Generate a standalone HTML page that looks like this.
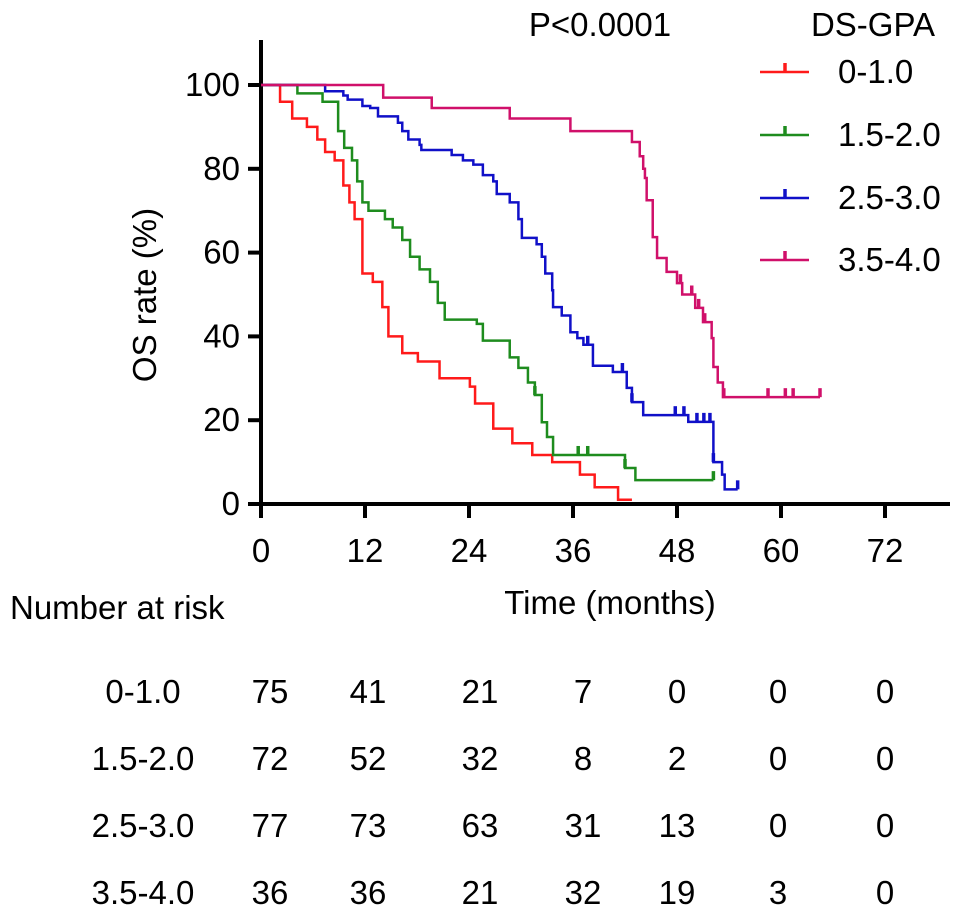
<!DOCTYPE html>
<html><head><meta charset="utf-8"><style>
body{margin:0;background:#fff;}
svg text{font-family:"Liberation Sans",Arial,sans-serif;fill:#000;}
</style></head><body>
<svg id="chart" width="969" height="919" xmlns="http://www.w3.org/2000/svg"></svg>
<script>
const xTicks=[0,12,24,36,48,60,72];
const yTicks=[0,20,40,60,80,100];
const groupNames=["0-1.0","1.5-2.0","2.5-3.0","3.5-4.0"];
const groupColors=["#ff1a1a","#1e8c1e","#1010c8","#d0106a"];
const redT=[2.2,3.6,5.3,6.5,7.4,8.5,9.5,10.2,10.8,11.7,12.9,14,14.7,16.3,18.1,20.6,24.1,24.7,26.8,29,31.3,33.6,36.8,38.5,41.2];
const redS=[96,92,90,87,84,82,76,72,68,55,53,47,40,36,34,30,28,24,18,14.5,11.7,10,7,4,1];
const redEnd=42.8;const redCens=[];
const greenT=[4.2,7.1,8.9,9.6,10.5,11.1,11.7,12.4,14.3,15.2,16.3,17.2,18.3,19.5,20.4,21.2,24.9,25.6,28.7,29.7,30.8,31.6,32.4,33,33.7,42,43.2];
const greenS=[98,96,89,85,82,77,72,70,68,66,63,59,56,53,48,44,43,39,35,32.5,29,26,19.5,16,11.7,8.6,5.7];
const greenEnd=52.2;const greenCens=[31.6,36.6,37.7,42,52.2];
const blueT=[7.4,9.5,10,11.7,12.6,13.5,15.8,16.3,17,18.3,18.5,22,23.3,24.5,25.6,26.8,27.2,28.7,29.7,30.1,31.8,32.4,32.8,33.6,33.7,34.7,35.7,36.5,37.2,38.3,40.6,42.2,42.8,44.1,49.3,52.2,53.2,53.5];
const blueS=[98.5,97.5,96.5,95,94.5,92.5,91,89,87,85.7,84.5,83.3,82,81,78.5,77,74,72,68,63.5,62,59,55,51,47,45,41,39.6,38,33,31.5,27.7,24.3,21.2,19.6,10,7,3.5];
const blueEnd=55;const blueCens=[37.7,41.7,42.8,47.8,48.8,50.3,51.1,51.8,52.2,55];
const magT=[14.1,19.7,28.7,35.7,42.8,43.7,44.1,44.3,44.5,45.2,45.7,46.8,48,48.6,50.1,51,52,52.2,52.7,53.3];
const magS=[97,94.5,92,89,86.4,83,80,77.8,72.5,63.7,58.7,55.4,52.7,50,46.8,43.4,39.6,32.7,29,25.5];
const magEnd=64.5;const magCens=[48.4,49.7,50.5,51.2,53.4,58.5,60.5,61.4,64.5];
const riskRows=[[75,41,21,7,0,0,0],[72,52,32,8,2,0,0],[77,73,63,31,13,0,0],[36,36,21,32,19,3,0]];
const riskCols=[270,368,480,583,677,778,885];

const FS=33;
const svg=document.getElementById('chart');const NS="http://www.w3.org/2000/svg";
const X=t=>261+t*(624/72);const Y=s=>504-s*4.19;
function mk(tag,a,parent){const e=document.createElementNS(NS,tag);for(const k in a)e.setAttribute(k,a[k]);(parent||svg).appendChild(e);return e;}
function txt(x,y,s,anchor,size,name){const t=mk('text',{x:x,y:y,'text-anchor':anchor,'font-size':size});t.textContent=s;


return t;}
let ya=mk('line',{x1:261,y1:40,x2:261,y2:506,stroke:'#000','stroke-width':4});


let xa=mk('line',{x1:259,y1:504,x2:950,y2:504,stroke:'#000','stroke-width':4});


yTicks.forEach(v=>{let l=mk('line',{x1:248,y1:Y(v),x2:261,y2:Y(v),stroke:'#000','stroke-width':4});


txt(240,Y(v)+11,String(v),'end',FS,'y-tick-label');});
xTicks.forEach(v=>{let l=mk('line',{x1:X(v),y1:504,x2:X(v),y2:518,stroke:'#000','stroke-width':4});


txt(X(v),562,String(v),'middle',FS,'x-tick-label');});
txt(610,614,'Time (months)','middle',FS,'x-axis-title');
let yt=txt(0,0,'OS rate (%)','middle',FS,'y-axis-title');yt.setAttribute('transform','translate(156,295) rotate(-90)');
txt(600,36,'P<0.0001','middle',FS,'p-value');
txt(873,36,'DS-GPA','middle',FS,'legend-title');
const series=[[redT,redS,redEnd,redCens],[greenT,greenS,greenEnd,greenCens],[blueT,blueS,blueEnd,blueCens],[magT,magS,magEnd,magCens]];
series.forEach((sr,gi)=>{const [T,S,end,C]=sr;let d=`M${X(0)},${Y(100)}`;
T.forEach((t,i)=>{d+=` H${X(t)} V${Y(S[i])}`;});d+=` H${X(end)}`;
let p=mk('path',{d:d,fill:'none',stroke:groupColors[gi],'stroke-width':2.5});


C.forEach(c=>{let s=100;T.forEach((t,i)=>{if(t<=c)s=S[i];});
let m=mk('line',{x1:X(c),y1:Y(s),x2:X(c),y2:Y(s)-9,stroke:groupColors[gi],'stroke-width':3.5});

});
const ly=[72,135,198,260][gi];
let g=mk('g',{});

mk('line',{x1:760,y1:ly,x2:809,y2:ly,stroke:groupColors[gi],'stroke-width':2.5},g);
mk('line',{x1:785,y1:ly,x2:785,y2:ly-9,stroke:groupColors[gi],'stroke-width':3.5},g);
const lt=mk('text',{x:838,y:ly+11,'font-size':FS},g);lt.textContent=groupNames[gi];
});
txt(10,619,'Number at risk','start',FS,'risk-table-title');
const rowY=[703,770,837,904];
riskRows.forEach((row,ri)=>{txt(143,rowY[ri],groupNames[ri],'middle',FS,'risk-row-label');
row.forEach((v,ci)=>txt(riskCols[ci],rowY[ri],String(v),'middle',FS,'risk-value'));});
</script>
</body></html>
